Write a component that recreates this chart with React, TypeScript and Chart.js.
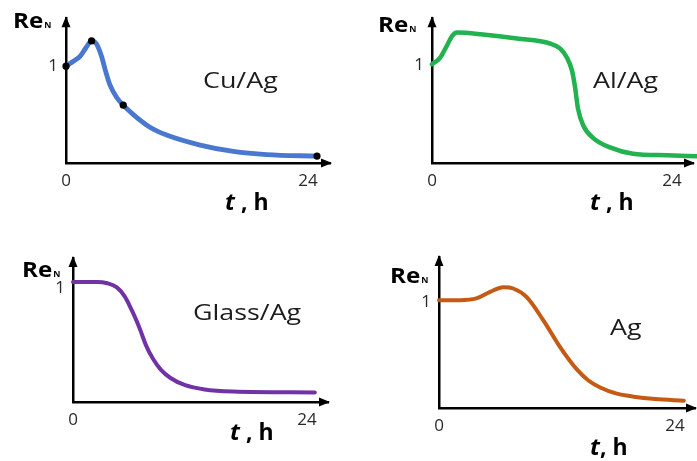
import React, { useEffect, useRef } from "react";
import { Chart, registerables } from "chart.js";
Chart.register(...registerables);

// ---- data ----
const xTickValues = [0, 24];
const yTickValues = [1];

const cuAgT = [0, 0.73, 1.39, 1.98, 2.54, 3.04, 3.54, 3.87, 4.36, 5.03, 5.68, 6.68, 8.33, 9.98, 13.3, 16.6, 19.9, 24.9];
const cuAgRe = [1, 1.05, 1.1, 1.19, 1.26, 1.226, 1.097, 0.97, 0.806, 0.676, 0.597, 0.5, 0.369, 0.288, 0.185, 0.12, 0.087, 0.071];
const cuAgMarkT = [0, 2.54, 5.68, 24.9];
const cuAgMarkRe = [1, 1.26, 0.597, 0.071];

const alAgT = [0, 0.8, 1.5, 2.0, 2.5, 5.1, 8.5, 11.8, 12.8, 13.5, 14.0, 14.3, 14.6, 15.1, 16.1, 17.8, 20.1, 23.5, 26.5];
const alAgRe = [1.0, 1.065, 1.19, 1.285, 1.32, 1.3, 1.26, 1.21, 1.16, 1.065, 0.935, 0.77, 0.55, 0.385, 0.255, 0.158, 0.094, 0.078, 0.068];

const glassT = [0, 2.5, 3.5, 4.5, 5.3, 6.0, 6.5, 6.9, 7.5, 8.2, 9.0, 10.0, 11.5, 13.5, 16.4, 24.8];
const glassRe = [1, 1.0, 0.99, 0.955, 0.88, 0.77, 0.68, 0.6, 0.47, 0.36, 0.27, 0.2, 0.14, 0.105, 0.088, 0.08];

const agT = [0, 2.1, 3.8, 5.2, 6.55, 7.55, 8.9, 10.6, 12.3, 14.0, 15.2, 16.4, 18.0, 19.8, 22.0, 24.9];
const agRe = [1, 1.0, 1.016, 1.077, 1.12, 1.108, 1.03, 0.815, 0.567, 0.36, 0.255, 0.19, 0.135, 0.105, 0.083, 0.068];

const panelNames = ["Cu/Ag", "Al/Ag", "Glass/Ag", "Ag"];
const yAxisLabel = "Re";
const yAxisSub = "N";
const xAxisVar = "t";
const xAxisUnitsWide = " , h";
const xAxisUnitsTight = ", h";

// ---- layout / style per panel ----
type Panel = {
  name: string;
  t: number[];
  v: number[];
  markT?: number[];
  markV?: number[];
  color: string;
  lineWidth: number;
  x: number; y: number; w: number; h: number;
  area: { l: number; t: number; r: number; b: number };
  xMax: number; yMax: number;
  yLabelShift: number;
  re: { x: number; y: number };
  name_pos: { x: number; y: number };
  th: { x: number; y: number; text: string };
};

const panels: Panel[] = [
  {
    name: panelNames[0], t: cuAgT, v: cuAgRe, markT: cuAgMarkT, markV: cuAgMarkRe,
    color: "#4a77cf", lineWidth: 4.8,
    x: 0, y: 0, w: 348, h: 230,
    area: { l: 66, t: 9, r: 330, b: 163 }, xMax: 26.19, yMax: 1.495, yLabelShift: 0,
    re: { x: 13, y: 28 }, name_pos: { x: 203, y: 88 }, th: { x: 225, y: 210, text: xAxisUnitsWide },
  },
  {
    name: panelNames[1], t: alAgT, v: alAgRe,
    color: "#22b24f", lineWidth: 4.5,
    x: 350, y: 0, w: 347, h: 230,
    area: { l: 82, t: 12, r: 343, b: 163 }, xMax: 26.1, yMax: 1.466, yLabelShift: 1,
    re: { x: 28, y: 32 }, name_pos: { x: 243, y: 88 }, th: { x: 240, y: 210, text: xAxisUnitsWide },
  },
  {
    name: panelNames[2], t: glassT, v: glassRe,
    color: "#7132a6", lineWidth: 4,
    x: 0, y: 230, w: 348, h: 231,
    area: { l: 73, t: 28, r: 328, b: 172 }, xMax: 26.15, yMax: 1.2, yLabelShift: 6,
    re: { x: 22, y: 47 }, name_pos: { x: 193, y: 90 }, th: { x: 230, y: 210, text: xAxisUnitsWide },
  },
  {
    name: panelNames[3], t: agT, v: agRe,
    color: "#c55a14", lineWidth: 4,
    x: 350, y: 230, w: 347, h: 231,
    area: { l: 89, t: 27, r: 345, b: 178 }, xMax: 26.04, yMax: 1.4, yLabelShift: 2,
    re: { x: 40, y: 53 }, name_pos: { x: 260, y: 105 }, th: { x: 240, y: 225, text: xAxisUnitsTight },
  },
];

const FONT = "'Open Sans', 'Noto Sans', sans-serif";

function drawStretched(ctx: CanvasRenderingContext2D, text: string, x: number, y: number, font: string, sx: number) {
  ctx.save();
  ctx.translate(x, y);
  ctx.scale(sx, 1);
  ctx.font = font;
  ctx.fillText(text, 0, 0);
  const w = ctx.measureText(text).width * sx;
  ctx.restore();
  return w;
}

const decorPlugin = {
  id: "decor",
  afterDraw(chart: any, _args: any, opts: any) {
    const { ctx } = chart;
    const { left, top, right, bottom } = chart.chartArea;
    const p: Panel = opts.panel;
    if (!p) return;
    ctx.save();
    ctx.fillStyle = "#000";
    // y-axis arrow head
    ctx.beginPath();
    ctx.moveTo(left, top - 2);
    ctx.lineTo(left - 4.5, top + 9);
    ctx.lineTo(left + 4.5, top + 9);
    ctx.closePath();
    ctx.fill();
    // x-axis arrow head
    ctx.beginPath();
    ctx.moveTo(right + 2, bottom);
    ctx.lineTo(right - 9, bottom - 4.5);
    ctx.lineTo(right - 9, bottom + 4.5);
    ctx.closePath();
    ctx.fill();

    ctx.textAlign = "left";
    ctx.textBaseline = "alphabetic";
    // Re_N
    ctx.fillStyle = "#000";
    const wRe = drawStretched(ctx, yAxisLabel, p.re.x, p.re.y, `bold 21px ${FONT}`, 1.15);
    drawStretched(ctx, yAxisSub, p.re.x + wRe + 1, p.re.y, `bold 8px ${FONT}`, 1.1);
    // panel name
    ctx.fillStyle = "#1c1c1c";
    drawStretched(ctx, p.name, p.name_pos.x, p.name_pos.y, `22px ${FONT}`, 1.22);
    // t , h
    ctx.fillStyle = "#000";
    const wt = drawStretched(ctx, xAxisVar, p.th.x, p.th.y, `italic bold 23px ${FONT}`, 1.05);
    drawStretched(ctx, p.th.text, p.th.x + wt, p.th.y, `bold 23px ${FONT}`, 1.0);
    ctx.restore();
  },
};

function PanelChart({ p }: { p: Panel }) {
  const ref = useRef<HTMLCanvasElement | null>(null);
  useEffect(() => {
    if (!ref.current) return;
    const datasets: any[] = [
      {
        type: "line",
        data: p.t.map((t, i) => ({ x: t, y: p.v[i] })),
        borderColor: p.color,
        borderWidth: p.lineWidth,
        pointRadius: 0,
        cubicInterpolationMode: "monotone",
        borderCapStyle: "round",
        borderJoinStyle: "round",
        fill: false,
        clip: false,
        order: 2,
      },
    ];
    if (p.markT && p.markV) {
      datasets.push({
        type: "scatter",
        data: p.markT.map((t, i) => ({ x: t, y: p.markV![i] })),
        backgroundColor: "#000",
        borderColor: "#000",
        pointRadius: 3.6,
        borderWidth: 0,
        clip: false,
        order: 1,
      });
    }
    const a = p.area;
    const chart = new Chart(ref.current, {
      type: "line",
      data: { datasets },
      options: {
        animation: false,
        responsive: false,
        devicePixelRatio: 1,
        layout: { padding: { left: 0, top: a.t, right: p.w - a.r, bottom: 0 } },
        plugins: {
          legend: { display: false },
          tooltip: { enabled: false },
          decor: { panel: p },
        } as any,
        scales: {
          x: {
            type: "linear",
            min: 0,
            max: p.xMax,
            grid: { display: false, drawTicks: false },
            border: { display: true, color: "#000", width: 2.5 },
            afterFit: (s: any) => { s.height = p.h - a.b; },
            afterBuildTicks: (s: any) => { s.ticks = xTickValues.map((v) => ({ value: v })); },
            ticks: {
              autoSkip: false,
              maxRotation: 0,
              padding: 8,
              color: "#2a2a2a",
              font: { family: FONT, size: 17 },
            },
          },
          y: {
            type: "linear",
            min: 0,
            max: p.yMax,
            grid: { display: false, drawTicks: false },
            border: { display: true, color: "#000", width: 2.5 },
            afterFit: (s: any) => { s.width = a.l; },
            afterBuildTicks: (s: any) => { s.ticks = yTickValues.map((v) => ({ value: v })); },
            ticks: {
              autoSkip: false,
              padding: 8,
              labelOffset: p.yLabelShift,
              color: "#2a2a2a",
              font: { family: FONT, size: 17 },
            },
          },
        },
      } as any,
      plugins: [decorPlugin as any],
    });
    return () => chart.destroy();
  }, [p]);
  return (
    <canvas
      ref={ref}
      width={p.w}
      height={p.h}
      style={{ position: "absolute", left: p.x, top: p.y, width: p.w, height: p.h }}
    />
  );
}

export default function App() {
  return (
    <div style={{ position: "fixed", left: 0, top: 0, width: 697, height: 461, background: "#fff", overflow: "hidden" }}>
      {panels.map((p) => (
        <PanelChart key={p.name} p={p} />
      ))}
    </div>
  );
}
